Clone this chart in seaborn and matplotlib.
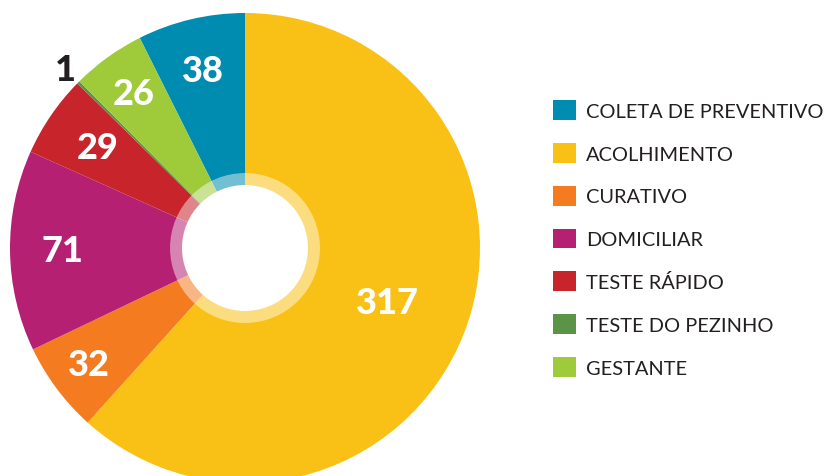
import numpy as np
import seaborn as sns
import matplotlib.pyplot as plt
from matplotlib.patches import Circle, Patch

# data
categorias = ['COLETA DE PREVENTIVO', 'ACOLHIMENTO', 'CURATIVO', 'DOMICILIAR',
              'TESTE RÁPIDO', 'TESTE DO PEZINHO', 'GESTANTE']
valores = [38, 317, 32, 71, 29, 1, 26]
cores = ['#008BB0', '#F9C116', '#F47B20', '#B52072', '#C8242B', '#5B9446', '#9FCB3B']

# label radius (fraction of pie radius) and colour per slice
label_r = [0.775, 0.65, 0.83, 0.775, 0.76, 1.08, 0.81]
label_cor = ['white'] * 5 + ['#231F20', 'white']

sns.set_style('white')
plt.rcParams['font.family'] = ['Lato', 'DejaVu Sans']
pal = sns.color_palette(cores)

fig = plt.figure(figsize=(8.28, 4.77), dpi=100)
ax = fig.add_axes([10 / 828, 1 - 484 / 477, 470 / 828, 470 / 477])

start = 90 + 360 * valores[0] / sum(valores)
wedges, _ = ax.pie(valores, colors=pal, startangle=start, counterclock=False,
                   radius=1, wedgeprops=dict(linewidth=0))

for w, v, r, c in zip(wedges, valores, label_r, label_cor):
    ang = np.deg2rad((w.theta1 + w.theta2) / 2)
    ax.text(r * np.cos(ang), r * np.sin(ang), str(v), ha='center', va='center',
            fontsize=26, fontweight='black', color=c)

# hole with translucent ring
ax.add_patch(Circle((0, 0), 0.319, color='white', alpha=0.45, lw=0))
ax.add_patch(Circle((0, 0), 0.268, color='white', lw=0))

ax.set_xlim(-1, 1)
ax.set_ylim(-1, 1)
ax.set_aspect('equal')
ax.axis('off')

handles = [Patch(facecolor=c, edgecolor='none') for c in pal]
fig.legend(handles, categorias, loc='upper left',
           bbox_to_anchor=(553 / 828, 1 - 101 / 477), frameon=False,
           fontsize=14.4, handlelength=1.15, handleheight=1.15,
           handletextpad=0.5, labelspacing=1.15, borderpad=0, borderaxespad=0,
           labelcolor='#231F20')

plt.savefig('out.png', dpi=100)
